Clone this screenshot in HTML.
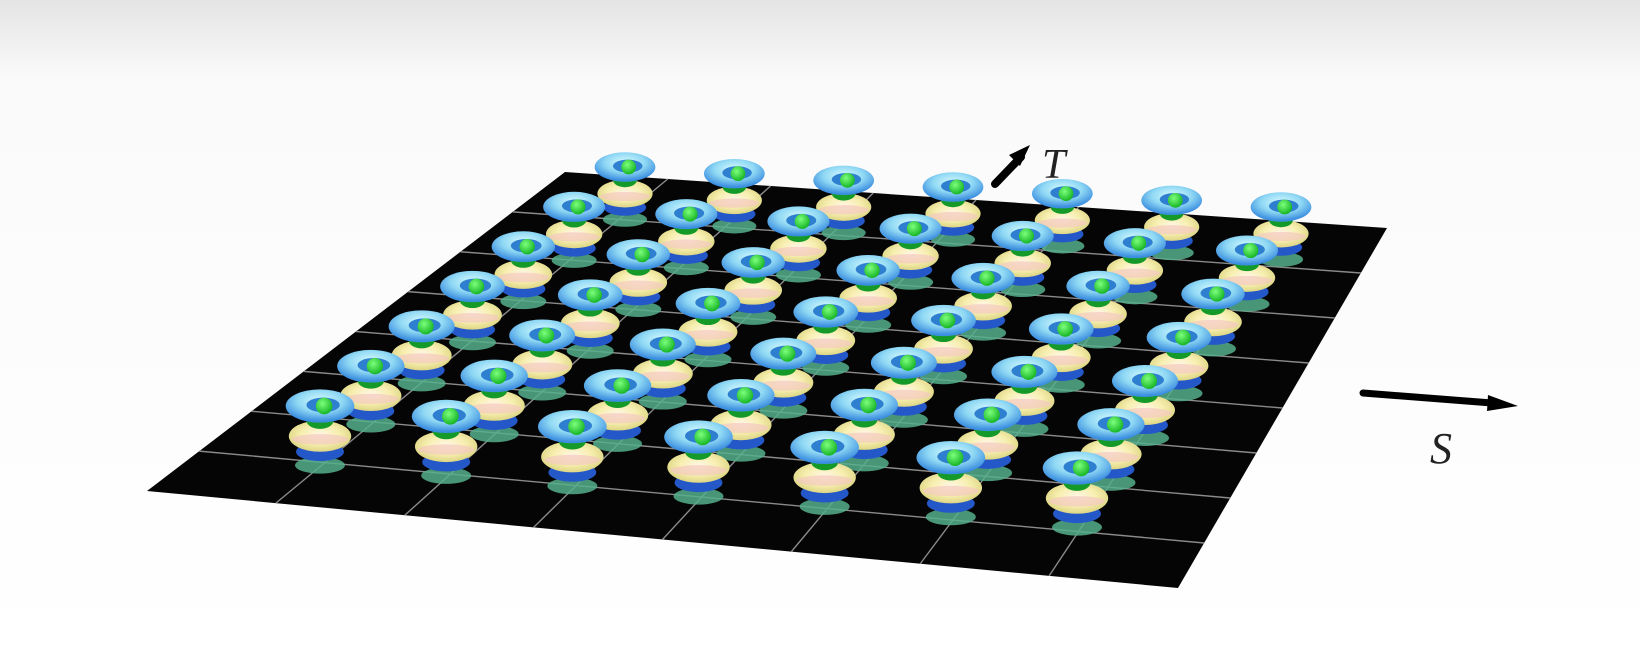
<!DOCTYPE html>
<html><head><meta charset="utf-8"><style>
html,body{margin:0;padding:0;width:1640px;height:652px;overflow:hidden;background:#fff;}
svg{display:block}
</style></head><body>
<svg id="scene" width="1640" height="652" viewBox="0 0 1640 652" xmlns="http://www.w3.org/2000/svg">
<defs>
<linearGradient id="bg" x1="0" y1="0" x2="0" y2="1">
<stop offset="0" stop-color="#e4e4e4"/><stop offset="0.12" stop-color="#fafafa"/><stop offset="1" stop-color="#ffffff"/>
</linearGradient>
<radialGradient id="ringTop" cx="0.5" cy="0.35" r="0.6">
<stop offset="0" stop-color="#d8fbff"/><stop offset="0.55" stop-color="#8fd8f4"/><stop offset="1" stop-color="#3c8fe0"/>
</radialGradient>
<radialGradient id="yellow" cx="0.5" cy="0.45" r="0.6">
<stop offset="0" stop-color="#fff6e6"/><stop offset="0.5" stop-color="#f7efb0"/><stop offset="1" stop-color="#d8d07a"/>
</radialGradient>
<radialGradient id="ball" cx="0.4" cy="0.35" r="0.7">
<stop offset="0" stop-color="#7cff7c"/><stop offset="1" stop-color="#10b020"/>
</radialGradient>
</defs>
<rect x="0" y="0" width="1640" height="652" fill="url(#bg)"/>
<polygon points="147,491 565,172 1387,228 1178,588" fill="#050505"/>
<g id="grid"></g>
<g id="objs"></g>
<g>
<line x1="995" y1="184" x2="1021" y2="157" stroke="#000" stroke-width="8" stroke-linecap="round"/>
<polygon points="1030,145 1009,155 1020,166" fill="#000"/>
</g>
<text x="1042" y="178" font-family="Liberation Serif, serif" font-style="italic" font-size="42" fill="#222">T</text>
<g>
<line x1="1363" y1="393" x2="1492" y2="403" stroke="#000" stroke-width="7" stroke-linecap="round"/>
<polygon points="1518,406 1488,395 1487,411" fill="#000"/>
</g>
<text x="1430" y="463" font-family="Liberation Serif, serif" font-style="italic" font-size="44" fill="#222">S</text>
</svg>
<script>
const NS="http://www.w3.org/2000/svg";
const sIdx=[0,1,2,3,4,5,6];
const tIdx=[0,1,2,3,4,5,6];
const gridDiv=8;
const P={bl:[147,491],br:[1178,588],tr:[1387,228],tl:[565,172]};
const L={fl:[320,406],fr:[1077,468],bl:[625,167],br:[1281,207]};
function bil(c,u,v){const a=c[0],b=c[1],d=c[2],e=c[3];
 return [ (1-u)*(1-v)*a[0]+u*(1-v)*b[0]+u*v*d[0]+(1-u)*v*e[0],
          (1-u)*(1-v)*a[1]+u*(1-v)*b[1]+u*v*d[1]+(1-u)*v*e[1]];}
const pc=[P.bl,P.br,P.tr,P.tl], lc=[L.fl,L.fr,L.br,L.bl];
const grid=document.getElementById('grid');
for(let k=1;k<gridDiv;k++){
 const f=k/gridDiv;
 [[bil(pc,0,f),bil(pc,1,f)],[bil(pc,f,0),bil(pc,f,1)]].forEach((s,i)=>{
  const l=document.createElementNS(NS,'line');
  
  
  l.setAttribute('x1',s[0][0]);l.setAttribute('y1',s[0][1]);l.setAttribute('x2',s[1][0]);l.setAttribute('y2',s[1][1]);
  l.setAttribute('stroke','#8a8a8a');l.setAttribute('stroke-width','1.4');
  grid.appendChild(l);});
}
const objs=document.getElementById('objs');
function el(g,tag,attrs){const e=document.createElementNS(NS,tag);for(const k in attrs)e.setAttribute(k,attrs[k]);g.appendChild(e);return e;}
for(let j=tIdx.length-1;j>=0;j--){
 for(let i=0;i<sIdx.length;i++){
  const u=sIdx[i]/6,v=tIdx[j]/6;
  const [cx,cy]=bil(lc,u,v);
  const s=1.04-0.12*v;
  const g=document.createElementNS(NS,'g');
  
  
  g.setAttribute('transform',`translate(${cx},${cy}) scale(${s})`);
  el(g,'ellipse',{cx:0,cy:57,rx:24,ry:8,fill:'#55b08c',opacity:0.85});
  el(g,'ellipse',{cx:0,cy:44,rx:23,ry:9,fill:'#2458c8'});
  el(g,'ellipse',{cx:0,cy:29,rx:30,ry:15,fill:'url(#yellow)'});
  el(g,'ellipse',{cx:0,cy:32,rx:27,ry:5,fill:'#f3c9c0',opacity:0.7});
  el(g,'ellipse',{cx:0,cy:14,rx:13,ry:8,fill:'#159a2a'});
  el(g,'ellipse',{cx:0,cy:0,rx:33,ry:16,fill:'url(#ringTop)'});
  el(g,'ellipse',{cx:3,cy:-1,rx:16,ry:7,fill:'#2f7fd0'});
  el(g,'circle',{cx:4,cy:0,r:8,fill:'url(#ball)'});
  objs.appendChild(g);
 }
}
</script>
</body></html>
